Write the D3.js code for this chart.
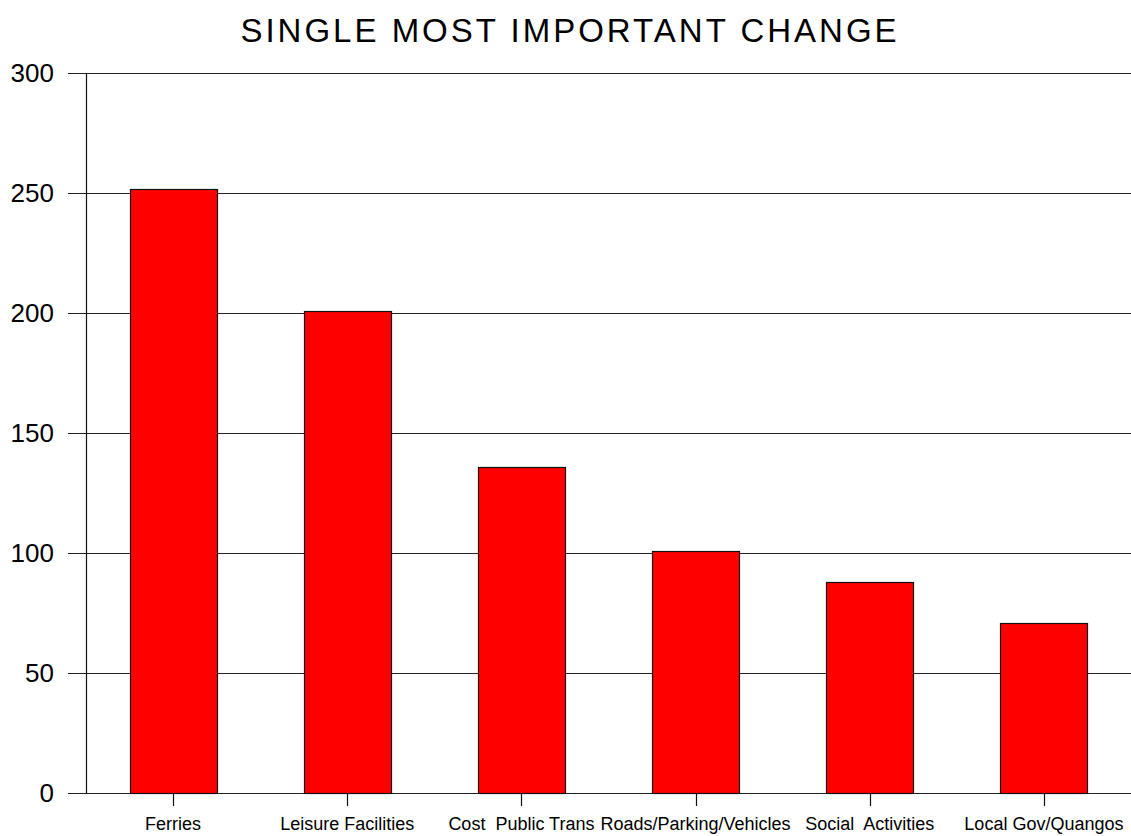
<!DOCTYPE html>
<html>
<head>
<meta charset="utf-8">
<script src="https://cdn.jsdelivr.net/npm/d3@7"></script>
<style>
  html, body { margin: 0; padding: 0; background: #fff; }
  svg { display: block; }
  text { font-family: "Liberation Sans", Arial, sans-serif; fill: #000; }
</style>
</head>
<body>
<svg id="chart" width="1131" height="836"></svg>
<script>
// Survey responses: single most important change
const categories = ["Ferries", "Leisure Facilities", "Cost  Public Trans", "Roads/Parking/Vehicles", "Social  Activities", "Local Gov/Quangos"];
const counts = [251, 200, 135, 100, 87, 70];
const yTicks = [0, 50, 100, 150, 200, 250, 300];
const title = "SINGLE MOST IMPORTANT CHANGE";

const W = 1131, H = 836;
const margin = { top: 73, right: 0, bottom: 43, left: 86 };

const svg = d3.select("#chart");

const x = d3.scaleBand()
  .domain(categories)
  .range([margin.left, W - margin.right])
  .paddingInner(0.5)
  .paddingOuter(0.25);

const y = d3.scaleLinear()
  .domain([0, 300])
  .range([H - margin.bottom, margin.top]);

// Title
svg.append("text")
  .attr("x", 570)
  .attr("y", 42)
  .attr("text-anchor", "middle")
  .style("font-size", "33px")
  .style("letter-spacing", "3px")
  .text(title);

// Horizontal gridlines with left tick stubs
svg.append("g")
  .selectAll("line")
  .data(yTicks)
  .join("line")
  .attr("x1", 68)
  .attr("x2", W)
  .attr("y1", d => Math.round(y(d)) + 0.5)
  .attr("y2", d => Math.round(y(d)) + 0.5)
  .attr("stroke", "#222")
  .attr("stroke-width", 1.2);

// Y tick labels
svg.append("g")
  .selectAll("text")
  .data(yTicks)
  .join("text")
  .attr("x", 54)
  .attr("y", d => y(d) + 9)
  .attr("text-anchor", "end")
  .style("font-size", "26px")
  .text(d => d);

// Y axis line
svg.append("line")
  .attr("x1", margin.left + 0.5)
  .attr("x2", margin.left + 0.5)
  .attr("y1", y(300))
  .attr("y2", y(0))
  .attr("stroke", "#111")
  .attr("stroke-width", 1.2);

// Bars
svg.append("g")
  .selectAll("rect")
  .data(categories)
  .join("rect")
  .attr("x", d => Math.round(x(d)) + 0.5)
  .attr("y", (d, i) => Math.round(y(counts[i])) - 1.5)
  .attr("width", Math.round(x.bandwidth()))
  .attr("height", (d, i) => Math.round(y(0)) - Math.round(y(counts[i])) + 2)
  .attr("fill", "#ff0000")
  .attr("stroke", "#111")
  .attr("stroke-width", 1.2);

// Category ticks and labels
const xAxis = svg.append("g");
xAxis.selectAll("line")
  .data(categories)
  .join("line")
  .attr("x1", d => Math.round(x(d) + x.bandwidth() / 2) + 0.5)
  .attr("x2", d => Math.round(x(d) + x.bandwidth() / 2) + 0.5)
  .attr("y1", y(0))
  .attr("y2", y(0) + 13)
  .attr("stroke", "#111")
  .attr("stroke-width", 1.2);

xAxis.selectAll("text")
  .data(categories)
  .join("text")
  .attr("x", d => x(d) + x.bandwidth() / 2)
  .attr("y", 830)
  .attr("text-anchor", "middle")
  .style("font-size", "18px")
  .style("white-space", "pre")
  .text(d => d);
</script>
</body>
</html>
